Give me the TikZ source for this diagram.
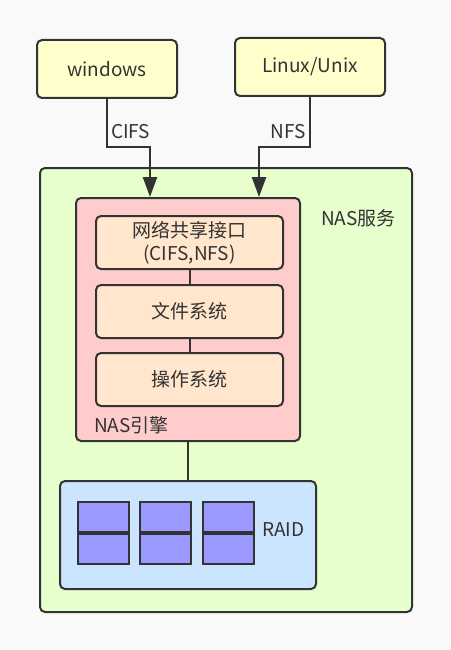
\documentclass[tikz,border=0pt]{standalone}
\usepackage{fontspec}
\setmainfont{Noto Sans CJK SC}
\usetikzlibrary{arrows.meta}
\definecolor{bg}{HTML}{F9F9F9}
\definecolor{ln}{HTML}{333333}
\definecolor{yel}{HTML}{FFFFCC}
\definecolor{grn}{HTML}{E6FFCC}
\definecolor{pnk}{HTML}{FFCCCC}
\definecolor{org}{HTML}{FFE6CC}
\definecolor{blu}{HTML}{CCE5FF}
\definecolor{dsk}{HTML}{9999FF}
\tikzset{
  box/.style={draw=ln, line width=2pt, rounded corners=5pt, inner sep=0pt, text=ln, font=\fontsize{19}{23}\selectfont, align=center},
  lbl/.style={text=ln, inner sep=0pt, font=\fontsize{19}{23}\selectfont},
  arr/.style={draw=ln, line width=2.5pt, -{Triangle[length=20pt,width=14pt]}},
  conn/.style={draw=ln, line width=2pt},
  disk/.style={draw=ln, line width=2pt, fill=dsk, minimum width=51pt, minimum height=30pt, inner sep=0pt}
}
\begin{document}
\begin{tikzpicture}[x=1pt,y=-1pt]
\useasboundingbox[fill=bg] (0,0) rectangle (450,650);
% top clients
\node[box, fill=yel, minimum width=140pt, minimum height=58pt] (win) at (107,69) {windows};
\node[box, fill=yel, minimum width=150pt, minimum height=58pt] (lin) at (310,67) {Linux/Unix};
% NAS service
\node[box, fill=grn, minimum width=372pt, minimum height=444pt] (svc) at (226,390) {};
\node[lbl, anchor=west] (svcl) at (321,218) {NAS服务};
% NAS engine
\node[box, fill=pnk, minimum width=224pt, minimum height=243pt] (eng) at (188,319.5) {};
\node[lbl, anchor=west] (engl) at (94,425) {NAS引擎};
\node[box, fill=org, minimum width=187pt, minimum height=53pt] (net) at (189.5,242.5) {网络共享接口\\(CIFS,NFS)};
\node[box, fill=org, minimum width=187pt, minimum height=53pt] (fs) at (189.5,311.5) {文件系统};
\node[box, fill=org, minimum width=187pt, minimum height=53pt] (os) at (189.5,379.5) {操作系统};
\draw[conn] (net) -- (fs);
\draw[conn] (fs) -- (os);
% RAID
\node[box, fill=blu, minimum width=256pt, minimum height=108pt] (raid) at (188,535) {};
\node[lbl, anchor=west] (raidl) at (262,530) {RAID};
\node[disk, anchor=south west] (d1a) at (77,532.5) {};
\node[disk, anchor=north west] (d1b) at (77,532.5) {};
\node[disk, anchor=south west] (d2a) at (139,532.5) {};
\node[disk, anchor=north west] (d2b) at (139,532.5) {};
\node[disk, anchor=south west] (d3a) at (202,532.5) {};
\node[disk, anchor=north west] (d3b) at (202,532.5) {};
\draw[conn] (eng.south) -- (raid.north);
% protocol arrows
\coordinate (cb) at (150,147);
\coordinate (nb) at (259,147);
\draw[arr] (win.south) |- (cb) -- (cb |- eng.north);
\draw[arr] (lin.south) |- (nb) -- (nb |- eng.north);
\node[lbl, anchor=west] (cifs) at (111,132) {CIFS};
\node[lbl, anchor=east] (nfs) at (306,132) {NFS};
\end{tikzpicture}
\end{document}
